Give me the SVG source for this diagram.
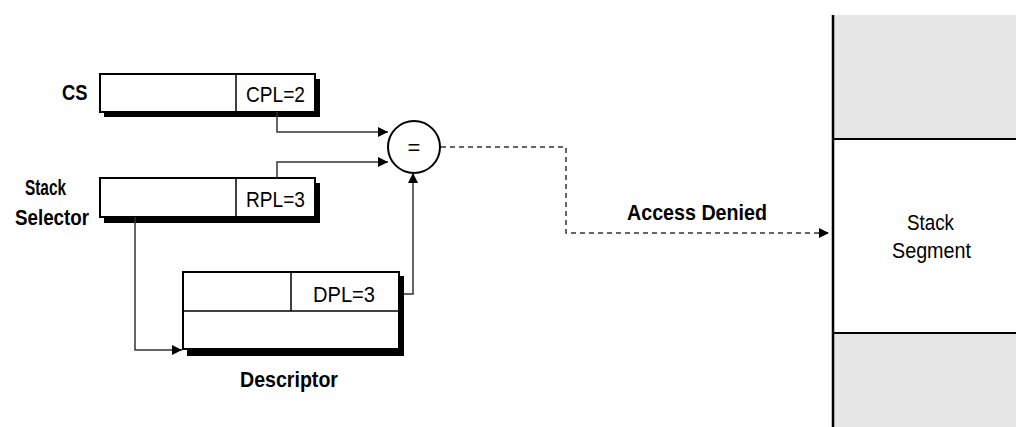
<svg xmlns="http://www.w3.org/2000/svg" width="1016" height="427" viewBox="0 0 1016 427">
<style>
  .lbl { font-family: "Liberation Sans", Arial, sans-serif; font-size: 22px; font-weight: bold; fill: #000; }
  .txt { font-family: "Liberation Sans", Arial, sans-serif; font-size: 22px; fill: #000; }
  .box { fill: #fff; stroke: #000; stroke-width: 2; }
  .shadow { fill: #000; }
  .div { stroke: #000; stroke-width: 1.5; fill: none; }
  .conn { stroke: #333; stroke-width: 1.5; fill: none; }
  .dash { stroke: #333; stroke-width: 1.5; fill: none; stroke-dasharray: 5 4; }
</style>
<defs>
  <marker id="arr" viewBox="0 0 10 10" refX="10" refY="5" markerWidth="10" markerHeight="10" markerUnits="userSpaceOnUse" orient="auto">
    <path d="M0,0 L10,5 L0,10 Z" fill="#000"/>
  </marker>
</defs>
<rect width="1016" height="427" fill="#fff"/>

<g id="stack-segment">
  <rect x="833" y="15" width="183" height="124" fill="#e6e6e6"/>
  <rect x="833" y="139" width="183" height="194" fill="#fff"/>
  <rect x="833" y="333" width="183" height="94" fill="#e6e6e6"/>
  <line x1="833" y1="139" x2="1016" y2="139" stroke="#000" stroke-width="2"/>
  <line x1="833" y1="333" x2="1016" y2="333" stroke="#000" stroke-width="2"/>
  <line x1="833" y1="15" x2="833" y2="427" stroke="#000" stroke-width="2.5"/>
  <text class="txt" x="907" y="230" textLength="47" lengthAdjust="spacingAndGlyphs">Stack</text>
  <text class="txt" x="892" y="258" textLength="79" lengthAdjust="spacingAndGlyphs">Segment</text>
</g>

<g id="cs">
  <rect class="shadow" x="104" y="79" width="216" height="38"/>
  <rect class="box" x="100" y="74" width="215" height="38"/>
  <line class="div" x1="236" y1="74" x2="236" y2="112"/>
  <text class="txt" x="246" y="102" textLength="59" lengthAdjust="spacingAndGlyphs">CPL=2</text>
  <text class="lbl" x="62" y="100" textLength="25.5" lengthAdjust="spacingAndGlyphs">CS</text>
</g>

<g id="stack-selector">
  <rect class="shadow" x="104" y="183" width="216" height="40"/>
  <rect class="box" x="100" y="178" width="215" height="39"/>
  <line class="div" x1="236" y1="178" x2="236" y2="217"/>
  <text class="txt" x="246" y="207" textLength="59" lengthAdjust="spacingAndGlyphs">RPL=3</text>
  <text class="lbl" x="25" y="195" textLength="41" lengthAdjust="spacingAndGlyphs">Stack</text>
  <text class="lbl" x="15" y="225" textLength="74" lengthAdjust="spacingAndGlyphs">Selector</text>
</g>

<g id="descriptor">
  <rect class="shadow" x="187" y="276" width="217" height="80"/>
  <rect class="box" x="183" y="272" width="216" height="77"/>
  <line class="div" x1="183" y1="311" x2="399" y2="311"/>
  <line class="div" x1="291" y1="272" x2="291" y2="311"/>
  <text class="txt" x="313" y="302" textLength="62" lengthAdjust="spacingAndGlyphs">DPL=3</text>
  <text class="lbl" x="240" y="387" textLength="98" lengthAdjust="spacingAndGlyphs">Descriptor</text>
</g>

<g id="compare">
  <circle cx="414" cy="147" r="26" fill="#fff" stroke="#000" stroke-width="2"/>
  <text class="txt" x="414" y="155" text-anchor="middle">=</text>
</g>

<g id="connectors">
  <polyline class="conn" points="277,112 277,132 388,132" marker-end="url(#arr)"/>
  <polyline class="conn" points="277,178 277,162 388,162" marker-end="url(#arr)"/>
  <polyline class="conn" points="404,294 413,294 413,173" marker-end="url(#arr)"/>
  <polyline class="conn" points="135,217 135,350 182,350" marker-end="url(#arr)"/>
  <polyline class="dash" points="441,147 566,147 566,233 829,233" marker-end="url(#arr)"/>
  <text class="lbl" x="627" y="220" textLength="140" lengthAdjust="spacingAndGlyphs">Access Denied</text>
</g>
</svg>
